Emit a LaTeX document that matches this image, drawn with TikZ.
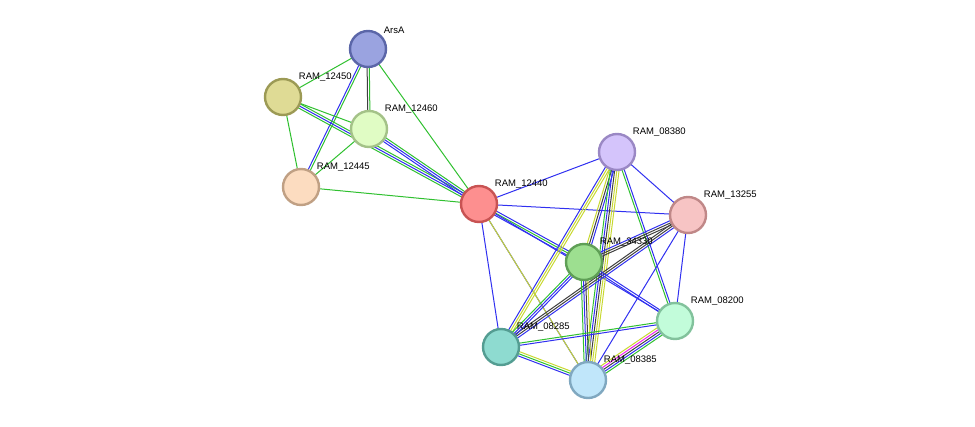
\documentclass[tikz,border=0pt]{standalone}
\usepackage{fontspec}
\setmainfont{Liberation Sans}
\usetikzlibrary{calc}
\definecolor{eblue}{HTML}{3030F0}
\definecolor{egreen}{HTML}{30C030}
\definecolor{eyellow}{HTML}{C8D832}
\definecolor{edark}{HTML}{404040}
\definecolor{emag}{HTML}{F020F0}
\tikzset{
    prot/.style={draw, circle, minimum size=36pt, line width=2.4pt, inner sep=0pt},
    lbl/.style={font=\fontsize{9.5}{10}\selectfont, anchor=south west, inner sep=0pt, label distance=3pt},
    link/.style={line width=1pt} }
% parallel lines between two nodes, one per colour
\newcommand{\evidence}[3]{%
  \foreach \c [count=\i] in {#3} {\xdef\nlines{\i}}%
  \foreach \c [count=\i] in {#3} {%
    \pgfmathsetmacro{\off}{(\i-(\nlines+1)/2)*2.2}%
    \draw[link, \c] ($(#1)!\off pt!90:(#2)$) -- ($(#2)!\off pt!-90:(#1)$);
  }}
\begin{document}
\begin{tikzpicture}[x=1pt, y=-1pt]
  \useasboundingbox (0,0) rectangle (975,426);
  \coordinate (arsA) at (368,49);
  \coordinate (r12450) at (283,97);
  \coordinate (r12460) at (369,129);
  \coordinate (r12445) at (301,187);
  \coordinate (r12440) at (479,204);
  \coordinate (r08380) at (617,152);
  \coordinate (r13255) at (688,215);
  \coordinate (r34330) at (584,262);
  \coordinate (r08200) at (675,321);
  \coordinate (r08285) at (501,347);
  \coordinate (r08385) at (588,380);
  % ----
  \evidence{arsA}{r12450}{egreen}
  \evidence{arsA}{r12460}{edark,egreen}
  \evidence{arsA}{r12445}{eblue,egreen}
  \evidence{arsA}{r12440}{egreen}
  \evidence{r12450}{r12460}{egreen}
  \evidence{r12450}{r12440}{egreen,eblue,egreen}
  \evidence{r12450}{r12445}{egreen}
  \evidence{r12460}{r12440}{eblue,eblue,egreen}
  \evidence{r12460}{r12445}{egreen}
  \evidence{r12445}{r12440}{egreen}
  \evidence{r12440}{r08380}{eblue}
  \evidence{r12440}{r13255}{eblue}
  \evidence{r12440}{r34330}{eblue,egreen,eblue}
  \evidence{r12440}{r08200}{eblue}
  \evidence{r12440}{r08285}{eblue}
  \evidence{r12440}{r08385}{eblue}
  \evidence{r12440}{r08385}{eyellow}
  \evidence{r08380}{r13255}{eblue}
  \evidence{r08380}{r08200}{egreen,eblue}
  \evidence{r08380}{r34330}{eyellow,edark,eblue}
  \evidence{r08380}{r08285}{eblue,eyellow,eyellow}
  \evidence{r08380}{r08385}{egreen,eblue,edark,eyellow,eyellow}
  \evidence{r13255}{r34330}{eblue,edark,edark}
  \evidence{r13255}{r08285}{edark,edark,eblue}
  \evidence{r13255}{r08200}{eblue}
  \evidence{r13255}{r08385}{eblue}
  \evidence{r34330}{r08200}{eblue,eblue}
  \evidence{r34330}{r08285}{egreen,eblue,eblue}
  \evidence{r34330}{r08385}{egreen,eblue,edark,eyellow}
  \evidence{r08285}{r08200}{eblue,egreen}
  \evidence{r08285}{r08385}{eblue,egreen,eyellow}
  \evidence{r08200}{r08385}{eyellow,emag,edark,eblue,egreen}
  % ----
  \node[prot, fill={rgb,255:red,154;green,163;blue,224}, draw={rgb,255:red,91;green,102;blue,168}, label={[lbl]45:ArsA}] (nArsA) at (arsA) {};
  \node[prot, fill={rgb,255:red,223;green,219;blue,149}, draw={rgb,255:red,156;green,154;blue,85}, label={[lbl]45:RAM\_12450}] (n12450) at (r12450) {};
  \node[prot, fill={rgb,255:red,224;green,252;blue,196}, draw={rgb,255:red,164;green,194;blue,136}, label={[lbl]45:RAM\_12460}] (n12460) at (r12460) {};
  \node[prot, fill={rgb,255:red,252;green,220;blue,192}, draw={rgb,255:red,192;green,160;blue,132}, label={[lbl]45:RAM\_12445}] (n12445) at (r12445) {};
  \node[prot, fill={rgb,255:red,253;green,143;blue,143}, draw={rgb,255:red,200;green,83;blue,83}, label={[lbl]45:RAM\_12440}] (n12440) at (r12440) {};
  \node[prot, fill={rgb,255:red,212;green,196;blue,251}, draw={rgb,255:red,154;green,136;blue,196}, label={[lbl]45:RAM\_08380}] (n08380) at (r08380) {};
  \node[prot, fill={rgb,255:red,247;green,196;blue,196}, draw={rgb,255:red,192;green,136;blue,136}, label={[lbl]45:RAM\_13255}] (n13255) at (r13255) {};
  \node[prot, fill={rgb,255:red,157;green,223;blue,144}, draw={rgb,255:red,95;green,159;blue,86}, label={[lbl]45:RAM\_34330}] (n34330) at (r34330) {};
  \node[prot, fill={rgb,255:red,194;green,252;blue,218}, draw={rgb,255:red,130;green,194;blue,156}, label={[lbl]45:RAM\_08200}] (n08200) at (r08200) {};
  \node[prot, fill={rgb,255:red,142;green,219;blue,208}, draw={rgb,255:red,84;green,157;blue,146}, label={[lbl]45:RAM\_08285}] (n08285) at (r08285) {};
  \node[prot, fill={rgb,255:red,192;green,230;blue,250}, draw={rgb,255:red,128;green,168;blue,192}, label={[lbl]45:RAM\_08385}] (n08385) at (r08385) {};
\end{tikzpicture}
\end{document}
